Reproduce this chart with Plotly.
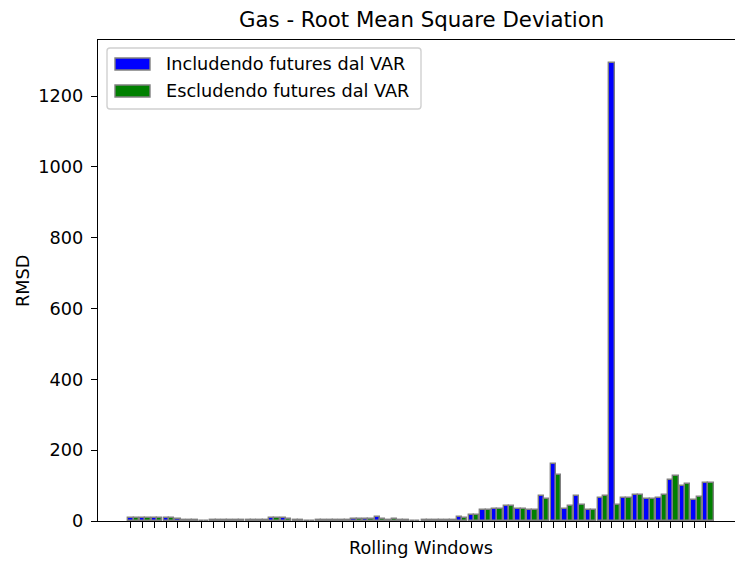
import numpy as np
import plotly.graph_objects as go

# RMSD per rolling window, with and without futures in the VAR
rmsd_incl = [8, 8, 8, 8, 5, 4, 1, 2, 4, 4,
             4, 4, 8, 8, 3, 1, 4, 4, 4, 7,
             5, 10, 4, 4, 1, 3, 3, 4, 11, 18,
             30, 35, 41, 35, 30, 72, 161, 34, 71, 30,
             65, 1294, 65, 74, 63, 66, 115, 98, 60, 108]
rmsd_excl = [8, 8, 8, 8, 4, 4, 1, 3, 4, 4,
             3, 4, 8, 7, 3, 1, 4, 4, 4, 5,
             6, 7, 7, 3, 1, 3, 3, 3, 9, 17,
             30, 35, 41, 35, 30, 61, 131, 42, 46, 30,
             72, 46, 64, 74, 63, 74, 126, 104, 67, 108]
series_names = ["Includendo futures dal VAR", "Escludendo futures dal VAR"]
series_colors = ["blue", "green"]
y_ticks = [0, 200, 400, 600, 800, 1000, 1200]

FONT = "DejaVu Sans"
W, H = 735, 565
L, R, T, B = 98, 0, 40, 44
bar_w = 0.45
idx = np.arange(len(rmsd_incl))

fig = go.Figure()
for offset, vals, name, col in zip([0.0, bar_w], [rmsd_incl, rmsd_excl],
                                   series_names, series_colors):
    fig.add_trace(go.Bar(
        x=idx + offset, y=vals, width=bar_w, name=name,
        marker=dict(color=col, line=dict(color="grey", width=1.4)),
        showlegend=False,
    ))

ymax = max(max(rmsd_incl), max(rmsd_excl)) * 1.05

fig.update_layout(
    width=W, height=H,
    margin=dict(l=L, r=R, t=T, b=B, autoexpand=False),
    plot_bgcolor="white", paper_bgcolor="white",
    barmode="overlay", bargap=0,
    font=dict(family=FONT, size=17.7, color="black"),
    xaxis=dict(
        range=[-2.81, 51.49], tickvals=idx, showticklabels=False,
        ticks="outside", ticklen=6, tickwidth=1.4, tickcolor="black",
        showline=True, linecolor="black", linewidth=1.4, mirror=True,
        showgrid=False, zeroline=False,
    ),
    yaxis=dict(
        range=[0, ymax], tickvals=y_ticks,
        ticks="outside", ticklen=6, tickwidth=1.4, tickcolor="black",
        tickfont=dict(size=17.7), ticklabelstandoff=4,
        showline=True, linecolor="black", linewidth=1.4,
        showgrid=False, zeroline=False,
    ),
)

pw, ph = W - L - R, H - T - B


def px_x(x):
    return (x - L) / pw


def px_y(y):
    return (H - B - y) / ph


# title and axis labels, centred on the full axes box
axes_center = px_x(421)
fig.add_annotation(text="Gas - Root Mean Square Deviation", xref="paper", yref="paper",
                   x=axes_center, y=px_y(19), showarrow=False,
                   font=dict(size=21.3, family=FONT), xanchor="center", yanchor="middle")
fig.add_annotation(text="Rolling Windows", xref="paper", yref="paper",
                   x=axes_center, y=px_y(548), showarrow=False,
                   font=dict(size=17.7, family=FONT), xanchor="center", yanchor="middle")
fig.add_annotation(text="RMSD", xref="paper", yref="paper",
                   x=px_x(23), y=px_y(281), showarrow=False, textangle=-90,
                   font=dict(size=17.7, family=FONT), xanchor="center", yanchor="middle")

# legend box
x0, x1, y0, y1, r = 107, 421, 48, 109, 3
path = (f"M {px_x(x0 + r)},{px_y(y0)} L {px_x(x1 - r)},{px_y(y0)} "
        f"Q {px_x(x1)},{px_y(y0)} {px_x(x1)},{px_y(y0 + r)} "
        f"L {px_x(x1)},{px_y(y1 - r)} Q {px_x(x1)},{px_y(y1)} {px_x(x1 - r)},{px_y(y1)} "
        f"L {px_x(x0 + r)},{px_y(y1)} Q {px_x(x0)},{px_y(y1)} {px_x(x0)},{px_y(y1 - r)} "
        f"L {px_x(x0)},{px_y(y0 + r)} Q {px_x(x0)},{px_y(y0)} {px_x(x0 + r)},{px_y(y0)} Z")
fig.add_shape(type="path", path=path, xref="paper", yref="paper",
              fillcolor="rgba(255,255,255,0.8)", line=dict(color="#d0d0d0", width=1.4))
for k, (name, col) in enumerate(zip(series_names, series_colors)):
    cy = 64 + 27 * k
    fig.add_shape(type="rect", xref="paper", yref="paper",
                  x0=px_x(115), x1=px_x(150), y0=px_y(cy - 6), y1=px_y(cy + 6),
                  fillcolor=col, line=dict(color="grey", width=1.4))
    fig.add_annotation(text=name, xref="paper", yref="paper",
                       x=px_x(164), y=px_y(cy), showarrow=False,
                       font=dict(size=17.7, family=FONT),
                       xanchor="left", yanchor="middle")

fig.write_html("out.html")
